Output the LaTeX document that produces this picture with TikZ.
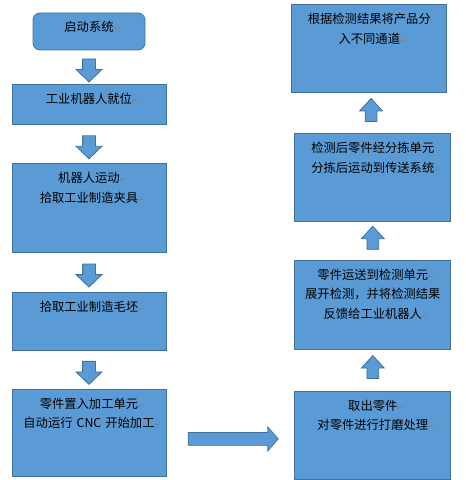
\documentclass[tikz,border=0pt]{standalone}
\usepackage{fontspec}
\newfontfamily\cjk{Noto Sans CJK SC}
\newfontfamily\symfont{DejaVu Sans}
\usetikzlibrary{positioning,calc,shapes.arrows}
\definecolor{boxfill}{HTML}{5B9BD5}
\definecolor{boxline}{HTML}{41719C}
\tikzset{
  procbox/.style    = {shape=rectangle, draw=boxline, fill=boxfill,
                       line width=0.8pt, align=center, inner sep=0pt,
                       text width=154pt, text height=19pt,
                       font=\cjk\fontsize{12.3}{19.5}\selectfont},
  boxh/.style       = {text depth=#1pt-19pt},
  startbox/.style   = {procbox, rounded corners=7pt, text width=112pt},
  blockarrow/.style = {single arrow, draw=boxline, fill=boxfill,
                       line width=0.8pt, inner xsep=0pt},
  downarrow/.style  = {blockarrow, rotate=-90, minimum height=23pt,
                       inner ysep=6pt, single arrow head extend=6.5pt,
                       single arrow tip angle=92},
  uparrow/.style    = {blockarrow, rotate=90, minimum height=23pt,
                       inner ysep=5.5pt, single arrow head extend=5.5pt,
                       single arrow tip angle=85},
  rightarrow/.style = {blockarrow, minimum height=90pt,
                       inner ysep=6pt, single arrow head extend=5.5pt,
                       single arrow tip angle=98}
}
\newcommand{\ret}{\rlap{\symfont\fontsize{8}{8}\selectfont\color{gray}↵}}

\begin{document}
\begin{tikzpicture}
  \useasboundingbox (0,0) rectangle (466pt,480pt);
  \node[startbox, boxh=37] (start) at (89pt,448.5pt) {启动系统\ret};
  \node[procbox, boxh=40, below=34pt of start] (ready)
    {工业机器人就位\ret};
  \node[procbox, boxh=89, below=38pt of ready] (fixture)
    {机器人运动\ret\\拾取工业制造夹具\ret};
  \node[procbox, boxh=58, below=39pt of fixture] (blank)
    {拾取工业制造毛坯\ret};
  \node[procbox, boxh=87, below=38pt of blank] (cnc)
    {零件置入加工单元\ret\\自动运行 CNC 开始加工\ret};
  \node[procbox, boxh=88, text width=156pt, right=128pt of cnc, yshift=-2.5pt] (polish)
    {取出零件\ret\\对零件进行打磨处理\ret};
  \node[procbox, boxh=89, text width=156pt, above=41pt of polish] (inspect)
    {零件运送到检测单元\ret\\展开检测，并将检测结果\\反馈给工业机器人\ret};
  \node[procbox, boxh=88, text width=156pt, above=38pt of inspect] (sort)
    {检测后零件经分拣单元\\分拣后运动到传送系统\ret};
  \node[procbox, boxh=88, text width=155pt, above=40pt of sort, xshift=-3.5pt] (route)
    {根据检测结果将产品分\\入不同通道\ret};

  \foreach \a/\b in {start/ready, ready/fixture, fixture/blank, blank/cnc}
    \node[downarrow] (down-\a) at ($(\a.south)!0.5!(\b.north)$) {};
  \foreach \a/\b in {polish/inspect, inspect/sort, sort/route}
    \node[uparrow] (up-\a) at ($(\a.north)!0.5!(\b.south)$) {};
  \node[rightarrow, yshift=-5pt] (across) at ($(cnc.east)!0.5!(polish.west)$) {};
\end{tikzpicture}
\end{document}
